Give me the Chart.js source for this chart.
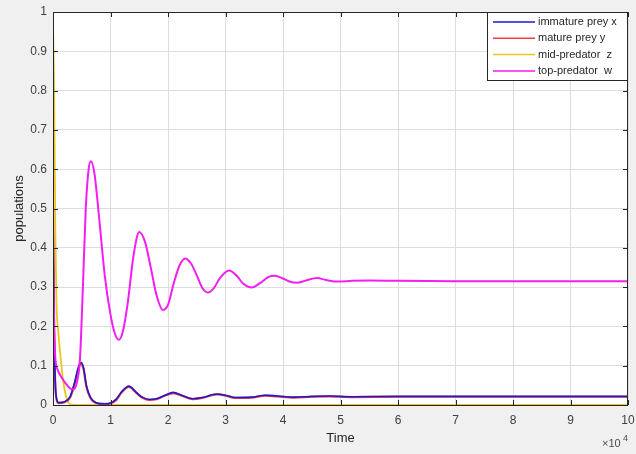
<!DOCTYPE html>
<html>
<head>
<meta charset="utf-8">
<script src="https://cdn.jsdelivr.net/npm/chart.js@4.4.1/dist/chart.umd.min.js"></script>
<style>
  body { margin: 0; background: #f0f0f0; }
  canvas { display: block; }
</style>
</head>
<body>
<canvas id="myChart" width="636" height="454"></canvas>
<script>
// time is in units of 10^4
const labelsSeries = ['immature prey x', 'mature prey y', 'mid-predator  z', 'top-predator  w']
const coloresSeries = ['#1a1acc', '#ff3c3c', '#e8c81a', '#f21ef2']

const tiempoPresa = [0, 0.02, 0.05, 0.1, 0.2, 0.3, 0.38, 0.45, 0.49, 0.53, 0.58, 0.65, 0.75, 0.9, 1.0, 1.1, 1.2, 1.32, 1.45, 1.55, 1.68, 1.8, 1.95, 2.09, 2.25, 2.43, 2.6, 2.85, 3.0, 3.17, 3.45, 3.7, 3.9, 4.2, 4.5, 4.8, 5.2, 6, 7, 8, 9, 10]
const presaX = [0.5, 0.2, 0.03, 0.006, 0.008, 0.022, 0.06, 0.1, 0.108, 0.095, 0.05, 0.02, 0.006, 0.003, 0.005, 0.015, 0.035, 0.048, 0.032, 0.02, 0.014, 0.016, 0.025, 0.032, 0.024, 0.016, 0.019, 0.028, 0.025, 0.019, 0.02, 0.025, 0.023, 0.02, 0.022, 0.023, 0.021, 0.022, 0.022, 0.022, 0.022, 0.022]
const presaY = [0.5, 0.19, 0.025, 0.005, 0.007, 0.02, 0.056, 0.097, 0.104, 0.092, 0.048, 0.018, 0.005, 0.002, 0.004, 0.013, 0.033, 0.046, 0.031, 0.019, 0.013, 0.015, 0.024, 0.03, 0.023, 0.015, 0.018, 0.027, 0.024, 0.018, 0.019, 0.024, 0.022, 0.019, 0.021, 0.022, 0.02, 0.021, 0.021, 0.021, 0.021, 0.021]

const tiempoZ = [0, 0.02, 0.04, 0.06, 0.09, 0.14, 0.2, 0.26, 0.32, 1, 10]
const depredadorZ = [0.97, 0.8, 0.45, 0.26, 0.19, 0.11, 0.04, 0.008, 0.001, 0, 0]

const tiempoW = [0, 0.02, 0.04, 0.08, 0.15, 0.22, 0.3, 0.36, 0.42, 0.47, 0.52, 0.57, 0.62, 0.66, 0.72, 0.8, 0.9, 1.0, 1.08, 1.15, 1.22, 1.3, 1.4, 1.5, 1.6, 1.7, 1.8, 1.91, 2.0, 2.1, 2.2, 2.3, 2.4, 2.5, 2.6, 2.7, 2.8, 2.9, 3.06, 3.2, 3.3, 3.46, 3.6, 3.75, 3.86, 4.0, 4.1, 4.24, 4.4, 4.59, 4.75, 4.96, 5.2, 5.5, 6, 7, 8, 9, 10]
const depredadorW = [0.38, 0.2, 0.12, 0.09, 0.07, 0.055, 0.042, 0.04, 0.06, 0.12, 0.3, 0.5, 0.6, 0.62, 0.59, 0.48, 0.33, 0.23, 0.18, 0.166, 0.19, 0.26, 0.38, 0.44, 0.415, 0.35, 0.28, 0.242, 0.255, 0.31, 0.355, 0.373, 0.36, 0.33, 0.297, 0.286, 0.298, 0.322, 0.342, 0.328, 0.31, 0.299, 0.31, 0.326, 0.329, 0.322, 0.315, 0.311, 0.317, 0.323, 0.318, 0.314, 0.316, 0.317, 0.316, 0.315, 0.315, 0.315, 0.315]

const ticksX = [0, 1, 2, 3, 4, 5, 6, 7, 8, 9, 10]
const ticksY = [0, 0.1, 0.2, 0.3, 0.4, 0.5, 0.6, 0.7, 0.8, 0.9, 1]

const puntos = (ts, vs) => ts.map((t, i) => ({ x: t, y: vs[i] }))

const serie = (i, ts, vs, orden, ancho) => ({
    label: labelsSeries[i],
    data: puntos(ts, vs),
    borderColor: coloresSeries[i],
    backgroundColor: coloresSeries[i],
    borderWidth: ancho,
    pointRadius: 0,
    cubicInterpolationMode: 'monotone',
    fill: false,
    order: orden
})

const fuente = '"Liberation Sans", Arial, sans-serif'

// white plot area
const fondo = {
    id: 'fondo',
    beforeDraw(chart) {
        const a = chart.chartArea
        chart.ctx.save()
        chart.ctx.fillStyle = '#ffffff'
        chart.ctx.fillRect(a.left, a.top, a.right - a.left, a.bottom - a.top)
        chart.ctx.restore()
    }
}

// box, inward ticks, legend and exponent label, like the matlab figure
const marco = {
    id: 'marco',
    afterDraw(chart) {
        const ctx = chart.ctx
        const a = chart.chartArea
        const sx = chart.scales.x
        const sy = chart.scales.y
        ctx.save()
        ctx.strokeStyle = '#262626'
        ctx.lineWidth = 1
        ctx.strokeRect(a.left + 0.5, a.top + 0.5, a.right - a.left - 1, a.bottom - a.top)
        ctx.beginPath()
        ticksX.forEach(t => {
            const px = Math.round(sx.getPixelForValue(t)) + 0.5
            ctx.moveTo(px, a.bottom); ctx.lineTo(px, a.bottom - 5)
            ctx.moveTo(px, a.top); ctx.lineTo(px, a.top + 5)
        })
        ticksY.forEach(v => {
            const py = Math.round(sy.getPixelForValue(v)) + 0.5
            ctx.moveTo(a.left, py); ctx.lineTo(a.left + 5, py)
            ctx.moveTo(a.right, py); ctx.lineTo(a.right - 5, py)
        })
        ctx.stroke()

        // legend
        const lx = 487, ly = a.top
        ctx.fillStyle = '#ffffff'
        ctx.fillRect(lx, ly, a.right - lx, 68)
        ctx.strokeStyle = '#262626'
        ctx.strokeRect(lx + 0.5, ly + 0.5, a.right - lx - 1, 68)
        ctx.font = '11px ' + fuente
        ctx.textBaseline = 'middle'
        labelsSeries.forEach((txt, i) => {
            const yy = ly + 10 + i * 16.3
            ctx.strokeStyle = coloresSeries[i]
            ctx.lineWidth = 1.5
            ctx.beginPath()
            ctx.moveTo(493, yy); ctx.lineTo(535, yy)
            ctx.stroke()
            ctx.fillStyle = '#262626'
            ctx.fillText(txt, 538, yy)
        })

        // x10^4
        ctx.fillStyle = '#4d4d4d'
        ctx.textBaseline = 'alphabetic'
        ctx.font = '11px ' + fuente
        ctx.fillText('\u00d710', 602, 447)
        ctx.font = '9px ' + fuente
        ctx.fillText('4', 623, 441)
        ctx.restore()
    }
}

const config = {
    type: 'line',
    data: {
        datasets: [
            serie(0, tiempoPresa, presaX, 2, 1.6),
            serie(1, tiempoPresa, presaY, 3, 2.2),
            serie(2, tiempoZ, depredadorZ, 4, 1.8),
            serie(3, tiempoW, depredadorW, 1, 2)
        ]
    },
    options: {
        responsive: false,
        animation: false,
        layout: { padding: { top: 12, right: 8, left: 0, bottom: 0 } },
        plugins: {
            legend: { display: false },
            tooltip: { enabled: false }
        },
        scales: {
            x: {
                type: 'linear',
                min: 0,
                max: 10,
                afterFit: (s) => { s.height = 49; s.paddingLeft = 0; s.paddingRight = 0 },
                afterBuildTicks: (s) => { s.ticks = ticksX.map(v => ({ value: v })) },
                grid: { color: '#dedede', drawTicks: false },
                border: { display: false },
                ticks: { color: '#404040', padding: 8, font: { family: fuente, size: 12 }, callback: (v) => String(v) },
                title: { display: true, text: 'Time', color: '#262626', font: { family: fuente, size: 13 }, padding: { top: 4, bottom: 8 } }
            },
            y: {
                type: 'linear',
                min: 0,
                max: 1,
                afterFit: (s) => { s.width = 53; s.paddingTop = 0; s.paddingBottom = 0 },
                afterBuildTicks: (s) => { s.ticks = ticksY.map(v => ({ value: v })) },
                grid: { color: '#dedede', drawTicks: false },
                border: { display: false },
                ticks: { color: '#404040', padding: 6, font: { family: fuente, size: 12 }, callback: (v) => String(v) },
                title: { display: true, text: 'populations', color: '#262626', font: { family: fuente, size: 13 }, padding: { top: 12, bottom: 0 } }
            }
        }
    },
    plugins: [fondo, marco]
}

const myChart = document.getElementById('myChart')
const grafico = new Chart(myChart, config)
</script>
</body>
</html>
